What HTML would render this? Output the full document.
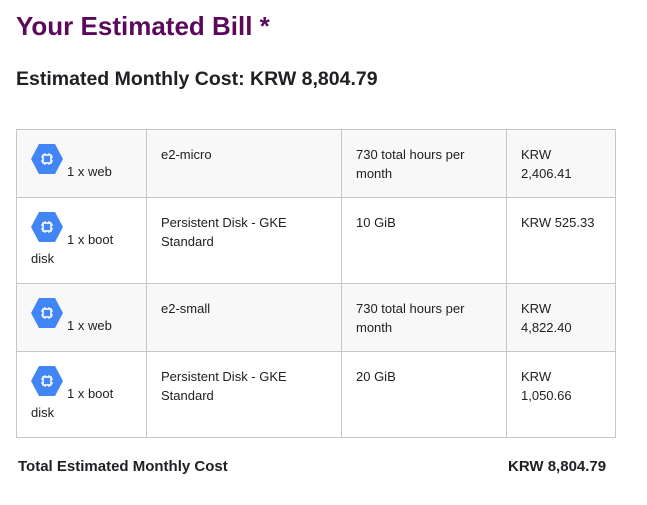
<!DOCTYPE html>
<html><head><meta charset="utf-8"><style>
body{margin:0;width:647px;height:505px;background:#fff;font-family:"Liberation Sans",sans-serif;color:#202124;position:relative;overflow:hidden}
h1{position:absolute;left:16px;top:10px;margin:0;font-size:26px;font-weight:bold;color:#5b0a5b;line-height:32px}
h2{position:absolute;left:16px;top:67px;margin:0;font-size:19.5px;font-weight:bold;line-height:24px}
table{position:absolute;left:16px;top:129px;border-collapse:collapse;font-size:13px;line-height:19px}
td{border:1px solid #c6c6c6;vertical-align:top;padding:15px 14px 0 14px;box-sizing:border-box}
td.it{padding-top:13px}
tr.g td{background:#f8f8f8}
.ic{display:inline-block;width:32px;height:32px;vertical-align:1px;margin-right:4px}
.foot{position:absolute;top:458px;font-size:15px;font-weight:bold;line-height:18px}
</style></head><body>
<h1>Your Estimated Bill *</h1>
<h2>Estimated Monthly Cost: KRW 8,804.79</h2>
<table>
<colgroup><col style="width:130px"><col style="width:195px"><col style="width:165px"><col style="width:109px"></colgroup>
<tr class="g" style="height:68px">
<td class="it"><svg class="ic" viewBox="0 0 32 32"><polygon points="8,1 24,1 32,16 24,31 8,31 0,16" fill="#4285f4"/><rect x="12" y="12" width="8" height="8" fill="none" stroke="#fff" stroke-width="1.6"/><path d="M14 10v2M18 10v2M14 20v2M18 20v2M10 14h2M10 18h2M20 14h2M20 18h2" stroke="#fff" stroke-width="1.2"/></svg>1 x web</td>
<td>e2-micro</td>
<td>730 total hours per month</td>
<td>KRW 2,406.41</td></tr>
<tr style="height:86px">
<td class="it"><svg class="ic" viewBox="0 0 32 32"><polygon points="8,1 24,1 32,16 24,31 8,31 0,16" fill="#4285f4"/><rect x="12" y="12" width="8" height="8" fill="none" stroke="#fff" stroke-width="1.6"/><path d="M14 10v2M18 10v2M14 20v2M18 20v2M10 14h2M10 18h2M20 14h2M20 18h2" stroke="#fff" stroke-width="1.2"/></svg>1 x boot disk</td>
<td>Persistent Disk - GKE Standard</td>
<td>10 GiB</td>
<td>KRW 525.33</td></tr>
<tr class="g" style="height:68px">
<td class="it"><svg class="ic" viewBox="0 0 32 32"><polygon points="8,1 24,1 32,16 24,31 8,31 0,16" fill="#4285f4"/><rect x="12" y="12" width="8" height="8" fill="none" stroke="#fff" stroke-width="1.6"/><path d="M14 10v2M18 10v2M14 20v2M18 20v2M10 14h2M10 18h2M20 14h2M20 18h2" stroke="#fff" stroke-width="1.2"/></svg>1 x web</td>
<td>e2-small</td>
<td>730 total hours per month</td>
<td>KRW 4,822.40</td></tr>
<tr style="height:86px">
<td class="it"><svg class="ic" viewBox="0 0 32 32"><polygon points="8,1 24,1 32,16 24,31 8,31 0,16" fill="#4285f4"/><rect x="12" y="12" width="8" height="8" fill="none" stroke="#fff" stroke-width="1.6"/><path d="M14 10v2M18 10v2M14 20v2M18 20v2M10 14h2M10 18h2M20 14h2M20 18h2" stroke="#fff" stroke-width="1.2"/></svg>1 x boot disk</td>
<td>Persistent Disk - GKE Standard</td>
<td>20 GiB</td>
<td>KRW 1,050.66</td></tr>
</table>
<div class="foot" style="left:18px">Total Estimated Monthly Cost</div>
<div class="foot" style="left:508px">KRW 8,804.79</div>
</body></html>
